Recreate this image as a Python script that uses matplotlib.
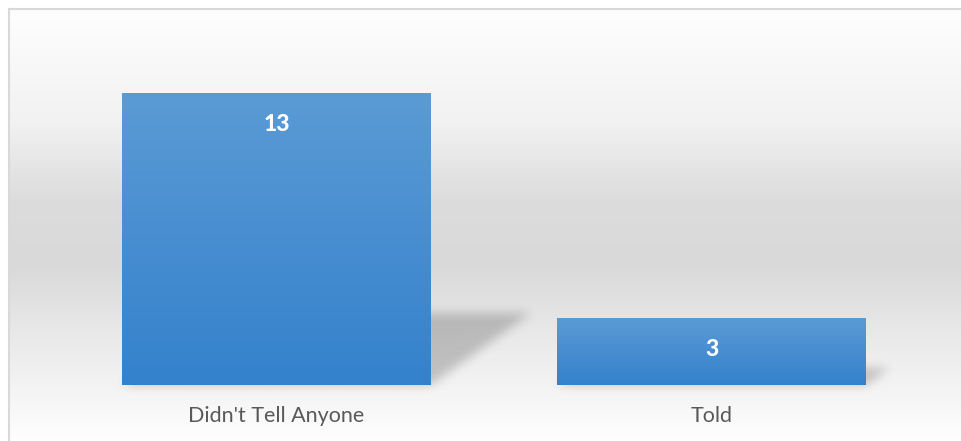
import numpy as np
import matplotlib
matplotlib.use("Agg")
import matplotlib.pyplot as plt
from matplotlib.path import Path
from matplotlib.lines import Line2D

categories = ["Didn't Tell Anyone", "Told"]
values = [13, 3]

plt.rcParams['font.family'] = ['Lato', 'DejaVu Sans']

W, H = 961, 441
fig = plt.figure(figsize=(W / 100, H / 100), dpi=100)
fig.patch.set_facecolor("white")

# background: white -> grey -> white vertical gradient
bg = fig.add_axes([0, 0, 1, 1], zorder=0)
bg.set_axis_off()
rows = np.arange(H)
shade = np.interp(rows, [9, 120, 200, 265, 330, 440], [254, 242, 220, 217, 232, 254]) / 255
img = np.dstack([np.repeat(shade[:, None], W, axis=1)] * 3)
img[:9, :] = 1
img[:, :9] = 1
bg.imshow(img, extent=(0, W, 0, H), origin='upper', aspect='auto', interpolation='nearest')

# main chart
ax = fig.add_axes([59 / W, 56 / H, 870 / W, 314.5 / H], zorder=2)
ax.patch.set_alpha(0)
x = np.arange(len(categories))
bars = ax.bar(x, values, width=0.71, color='none', edgecolor='none')
ax.set_xlim(-0.5, 1.5)
ax.set_ylim(0, 14)

# perspective shadows behind the bars
yy, xx = np.mgrid[0:H, 0:W]
pts = np.column_stack([xx.ravel() + 0.5, H - yy.ravel() - 0.5])
mask = np.zeros(H * W)
for b in bars:
    (px0, py0), (px1, py1) = ax.transData.transform(
        [(b.get_x(), 0), (b.get_x() + b.get_width(), b.get_height())])
    hgt = py1 - py0
    dx, dy = 0.34 * hgt, 0.245 * hgt
    poly = Path([(px0, py0), (px1, py0), (px1 + dx, py0 + dy), (px0 + dx, py0 + dy)])
    mask = np.maximum(mask, poly.contains_points(pts))
mask = mask.reshape(H, W)
k = np.exp(-0.5 * (np.arange(-15, 16) / 5.0) ** 2)
k /= k.sum()
mask = np.apply_along_axis(lambda r: np.convolve(r, k, mode='same'), 1, mask)
mask = np.apply_along_axis(lambda c: np.convolve(c, k, mode='same'), 0, mask)
shadow = np.zeros((H, W, 4))
shadow[..., 3] = 0.2 * mask
bg.imshow(shadow, extent=(0, W, 0, H), origin='upper', aspect='auto')
bg.set_xlim(0, W)
bg.set_ylim(0, H)

# gradient fill for each bar
top_c = np.array([91, 155, 213]) / 255
bot_c = np.array([52, 129, 204]) / 255
grad_bar = np.linspace(0, 1, 256)[:, None, None] * (bot_c - top_c) + top_c
for b, v in zip(bars, values):
    im = ax.imshow(grad_bar, extent=(b.get_x(), b.get_x() + b.get_width(), 0, b.get_height()),
                   origin='upper', aspect='auto', zorder=1)
    im.set_clip_path(b)
    ax.annotate(str(v), xy=(b.get_x() + b.get_width() / 2, v), xytext=(0, -32),
                textcoords='offset pixels', ha='center', va='center',
                color='white', fontsize=16.5, fontweight='black', zorder=3)

ax.set_xlim(-0.5, 1.5)
ax.set_ylim(0, 14)
ax.set_xticks(x)
ax.set_xticklabels(categories, fontsize=15.5, color='#595959')
ax.tick_params(axis='x', length=0, pad=15)
ax.set_yticks([])
for s in ax.spines.values():
    s.set_visible(False)

# light border round the chart area
fig.add_artist(Line2D([9 / W, 9 / W], [0, 1 - 9 / H], color='#d9d9d9', lw=1.5))
fig.add_artist(Line2D([9 / W, 1], [1 - 9 / H, 1 - 9 / H], color='#d9d9d9', lw=1.5))

fig.savefig("out.png", dpi=100)
